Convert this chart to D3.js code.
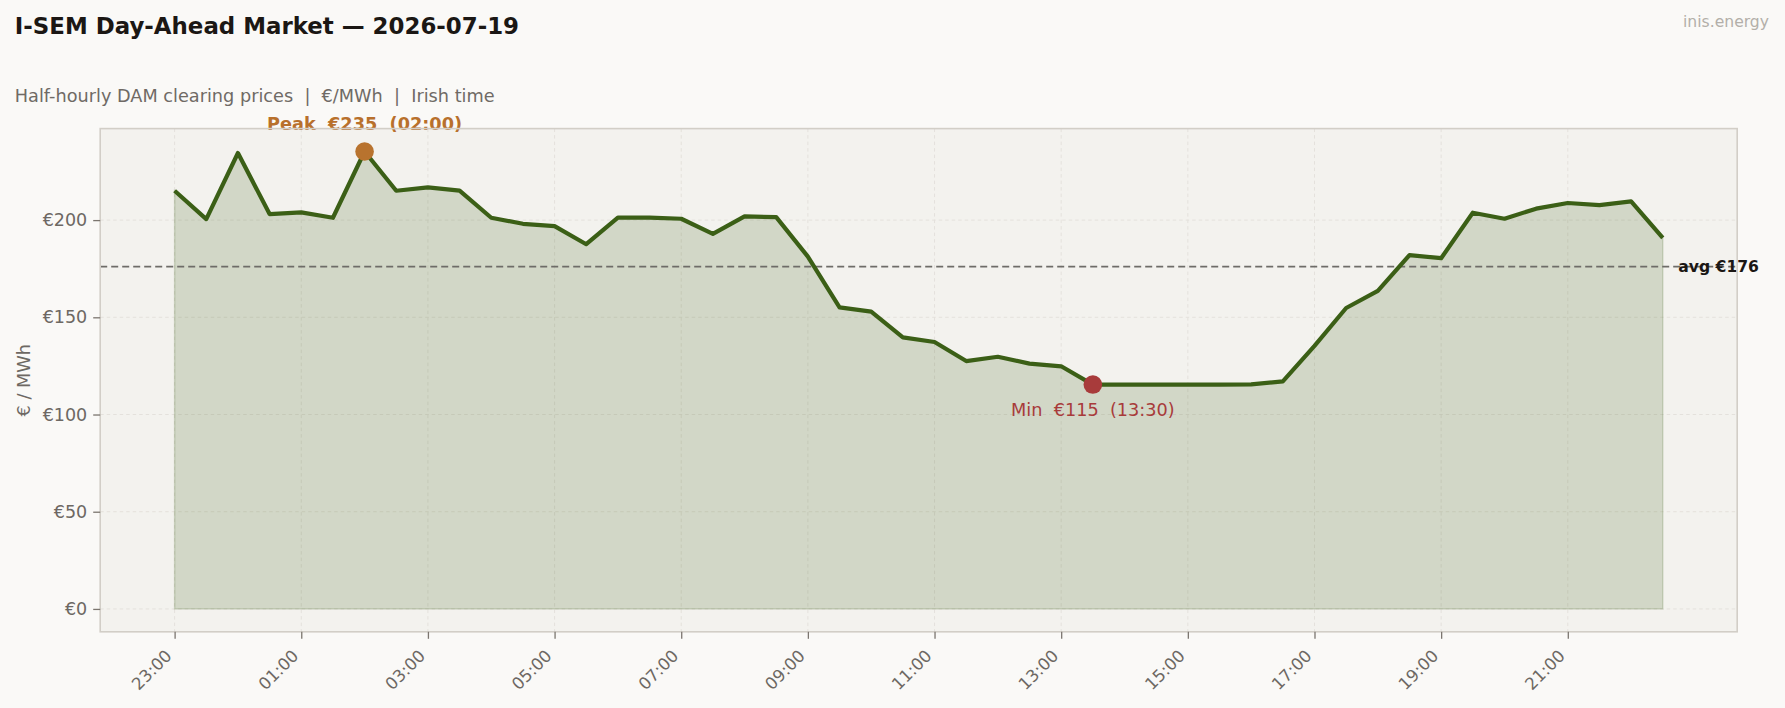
<!DOCTYPE html>
<html>
<head>
<meta charset="utf-8">
<script src="https://cdn.jsdelivr.net/npm/d3@7"></script>
<style>
  html, body { margin: 0; padding: 0; background: #faf9f7; }
  svg { display: block; font-family: "DejaVu Sans", sans-serif; }
  text { white-space: pre; }
</style>
</head>
<body>
<div id="wrapper"></div>
<script>
// half-hourly slots, Irish time (day starts 23:00 the evening before)
const slots = [
    "23:00","23:30","00:00","00:30","01:00","01:30","02:00","02:30",
    "03:00","03:30","04:00","04:30","05:00","05:30","06:00","06:30",
    "07:00","07:30","08:00","08:30","09:00","09:30","10:00","10:30",
    "11:00","11:30","12:00","12:30","13:00","13:30","14:00","14:30",
    "15:00","15:30","16:00","16:30","17:00","17:30","18:00","18:30",
    "19:00","19:30","20:00","20:30","21:00","21:30","22:00","22:30"
];
// DAM clearing prices, €/MWh
const prices = [
    215.1, 200.5, 234.5, 203.1, 204.0, 201.2, 235.3, 215.1,
    216.8, 215.2, 201.2, 198.1, 196.9, 187.6, 201.3, 201.3,
    200.7, 192.9, 201.9, 201.5, 181.2, 155.1, 152.9, 139.7,
    137.3, 127.5, 129.7, 126.2, 124.8, 115.4, 115.4, 115.4,
    115.4, 115.4, 115.5, 117.0, 135.3, 154.8, 163.6, 182.0,
    180.4, 203.8, 200.7, 205.9, 208.8, 207.7, 209.6, 190.8
];
const yTicks = [0, 50, 100, 150, 200];
const xTickSlots = ["23:00","01:00","03:00","05:00","07:00","09:00","11:00","13:00","15:00","17:00","19:00","21:00"];

const titleText = "I-SEM Day-Ahead Market — 2026-07-19";
const subtitleText = "Half-hourly DAM clearing prices  |  €/MWh  |  Irish time";
const brandText = "inis.energy";

function buildPlot() {
    const data = prices.map((p, i) => ({slot: slots[i], i: i, price: p}));
    const xAccessor = d => d.i;
    const yAccessor = d => d.price;

    const dimension = {
        width: 1785,
        height: 708,
        margin: {top: 128.6, left: 100.2, right: 47.8, bottom: 76.2}
    };
    dimension.boundedWidth = dimension.width - dimension.margin.left - dimension.margin.right;
    dimension.boundedHeight = dimension.height - dimension.margin.top - dimension.margin.bottom;

    const svg = d3.select("#wrapper").append("svg")
        .attr("width", dimension.width)
        .attr("height", dimension.height);

    svg.append("rect")
        .attr("width", dimension.width).attr("height", dimension.height)
        .attr("fill", "#faf9f7");

    // headings
    svg.append("text")
        .attr("x", 14.8).attr("y", 33.5)
        .text(titleText)
        .attr("font-size", "22.9px").attr("font-weight", "bold")
        .attr("fill", "#1b1714");
    svg.append("text")
        .attr("x", 14.8).attr("y", 101.8)
        .text(subtitleText)
        .attr("font-size", "17.7px")
        .attr("fill", "#6f6a65");
    svg.append("text")
        .attr("x", 1769).attr("y", 27)
        .attr("text-anchor", "end")
        .text(brandText)
        .attr("font-size", "15.6px")
        .attr("fill", "#b3afa9");

    const bounds = svg.append("g")
        .attr("transform", `translate(${dimension.margin.left},${dimension.margin.top})`);

    const n = data.length - 1;
    const xScaler = d3.scaleLinear()
        .domain([-0.05 * n, n * 1.05])
        .range([0, dimension.boundedWidth]);
    const maxP = d3.max(data, yAccessor);
    const yScaler = d3.scaleLinear()
        .domain([-0.05 * maxP, maxP * 1.05])
        .range([dimension.boundedHeight, 0]);

    bounds.append("rect")
        .attr("width", dimension.boundedWidth)
        .attr("height", dimension.boundedHeight)
        .attr("fill", "#f3f2ee");

    // grid
    const xTickIdx = xTickSlots.map(s => slots.indexOf(s));
    bounds.append("g").selectAll("line")
        .data(yTicks).enter().append("line")
        .attr("x1", 0).attr("x2", dimension.boundedWidth)
        .attr("y1", d => yScaler(d)).attr("y2", d => yScaler(d))
        .attr("stroke", "#e4e1dc").attr("stroke-width", 1)
        .attr("stroke-dasharray", "3.5 3");
    bounds.append("g").selectAll("line")
        .data(xTickIdx).enter().append("line")
        .attr("x1", d => xScaler(d)).attr("x2", d => xScaler(d))
        .attr("y1", 0).attr("y2", dimension.boundedHeight)
        .attr("stroke", "#e4e1dc").attr("stroke-width", 1)
        .attr("stroke-dasharray", "3.5 3");

    // area + line
    const areaGen = d3.area()
        .x(d => xScaler(xAccessor(d)))
        .y0(yScaler(0))
        .y1(d => yScaler(yAccessor(d)));
    bounds.append("path")
        .datum(data)
        .attr("d", areaGen)
        .attr("fill", "#3b5f16").attr("fill-opacity", 0.18)
        .attr("stroke", "#3b5f16").attr("stroke-opacity", 0.18)
        .attr("stroke-width", 1.5);

    const mean = d3.mean(data, yAccessor);
    bounds.append("line")
        .attr("x1", 0).attr("x2", dimension.boundedWidth)
        .attr("y1", yScaler(mean)).attr("y2", yScaler(mean))
        .attr("stroke", "#6e6c68").attr("stroke-width", 1.8)
        .attr("stroke-dasharray", "7 4");

    const lineGen = d3.line()
        .x(d => xScaler(xAccessor(d)))
        .y(d => yScaler(yAccessor(d)));
    bounds.append("path")
        .datum(data)
        .attr("d", lineGen)
        .attr("fill", "none")
        .attr("stroke", "#3b5f16").attr("stroke-width", 4.2)
        .attr("stroke-linejoin", "round");

    bounds.append("text")
        .attr("x", xScaler(n) + 15.5)
        .attr("y", yScaler(mean))
        .attr("dominant-baseline", "central")
        .text(`avg €${Math.round(mean)}`)
        .attr("font-size", "15.6px").attr("font-weight", "bold")
        .attr("fill", "#1b1714");

    // peak & min markers
    const peak = data.reduce((a, b) => (b.price > a.price ? b : a));
    const low = data.reduce((a, b) => (b.price < a.price ? b : a));

    bounds.append("circle")
        .attr("cx", xScaler(peak.i)).attr("cy", yScaler(peak.price))
        .attr("r", 9.3).attr("fill", "#b8732e");
    bounds.append("text")
        .attr("x", xScaler(peak.i)).attr("y", yScaler(peak.price) - 21)
        .attr("text-anchor", "middle")
        .text(`Peak  €${Math.round(peak.price)}  (${peak.slot})`)
        .attr("font-size", "17.7px").attr("font-weight", "bold")
        .attr("fill", "#b8702c");

    bounds.append("circle")
        .attr("cx", xScaler(low.i)).attr("cy", yScaler(low.price))
        .attr("r", 9.3).attr("fill", "#a83b3b");
    bounds.append("text")
        .attr("x", xScaler(low.i)).attr("y", yScaler(low.price) + 31)
        .attr("text-anchor", "middle")
        .text(`Min  €${Math.round(low.price)}  (${low.slot})`)
        .attr("font-size", "17.7px")
        .attr("fill", "#a83b3b");

    // frame
    bounds.append("rect")
        .attr("width", dimension.boundedWidth)
        .attr("height", dimension.boundedHeight)
        .attr("fill", "none")
        .attr("stroke", "#d2cec7").attr("stroke-width", 1.6);

    // axes
    const yAxisGen = d3.axisLeft(yScaler)
        .tickValues(yTicks)
        .tickSize(7).tickPadding(6)
        .tickFormat(d => `€${d}`);
    const yAxis = bounds.append("g").call(yAxisGen);
    yAxis.select(".domain").remove();
    yAxis.selectAll("line").attr("stroke", "#7b756f").attr("stroke-width", 1.3);
    yAxis.selectAll("text")
        .attr("font-size", "17.5px").attr("fill", "#6d6863")
        .attr("font-family", "DejaVu Sans");

    const xAxisGen = d3.axisBottom(xScaler)
        .tickValues(xTickIdx)
        .tickSize(7)
        .tickFormat(i => slots[i]);
    const xAxis = bounds.append("g")
        .attr("transform", `translate(0,${dimension.boundedHeight})`)
        .call(xAxisGen);
    xAxis.select(".domain").remove();
    xAxis.selectAll("line").attr("stroke", "#7b756f").attr("stroke-width", 1.3);
    xAxis.selectAll("text")
        .attr("x", 0).attr("y", 0).attr("dy", null)
        .attr("transform", "translate(-6.5,21) rotate(-45)")
        .attr("text-anchor", "end")
        .attr("dominant-baseline", "central")
        .attr("font-size", "16.7px").attr("fill", "#6d6863")
        .attr("font-family", "DejaVu Sans");

    svg.append("text")
        .attr("transform", `translate(24,${dimension.margin.top + dimension.boundedHeight / 2}) rotate(-90)`)
        .attr("text-anchor", "middle")
        .attr("dominant-baseline", "central")
        .text("€ / MWh")
        .attr("font-size", "17.7px")
        .attr("fill", "#6d6863");
}

buildPlot();
</script>
</body>
</html>
